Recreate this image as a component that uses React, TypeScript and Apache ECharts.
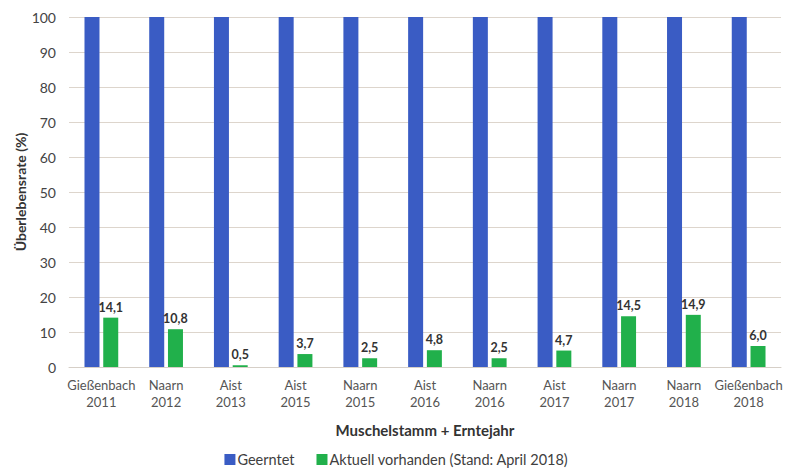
import React, { useEffect, useRef } from "react";
import * as echarts from "echarts";

const categories = [
  "Gießenbach\n2011",
  "Naarn\n2012",
  "Aist\n2013",
  "Aist\n2015",
  "Naarn\n2015",
  "Aist\n2016",
  "Naarn\n2016",
  "Aist\n2017",
  "Naarn\n2017",
  "Naarn\n2018",
  "Gießenbach\n2018",
];
const geernt = [100, 100, 100, 100, 100, 100, 100, 100, 100, 100, 100];
const aktuell = [14.1, 10.8, 0.5, 3.7, 2.5, 4.8, 2.5, 4.7, 14.5, 14.9, 6.0];
const seriesNames = ["Geerntet", "Aktuell vorhanden (Stand: April 2018)"];
const yTitle = "Überlebensrate (%)";

export default function App() {
  const ref = useRef<HTMLDivElement>(null);
  useEffect(() => {
    if (!ref.current) return;
    const chart = echarts.init(ref.current, undefined, { renderer: "svg" });
    const font = "Lato, 'Open Sans', sans-serif";
    chart.setOption({
      animation: false,
      textStyle: { fontFamily: font },
      grid: { left: 69, right: 12, top: 17, bottom: 103, containLabel: false },
      graphic: [
        {
          type: "text",
          x: 20,
          y: 192,
          rotation: Math.PI / 2,
          style: {
            text: yTitle,
            fontSize: 14,
            fontWeight: "bold",
            fill: "#333",
            fontFamily: font,
            align: "center",
            verticalAlign: "middle",
          },
        },
      ],
      legend: {
        top: 452,
        left: "center",
        padding: 0,
        itemWidth: 11,
        itemHeight: 11,
        itemGap: 22,
        icon: "rect",
        textStyle: { fontSize: 14.5, color: "#404040", fontFamily: font, padding: [0, 0, 0, -3] },
        data: seriesNames,
      },
      xAxis: {
        type: "category",
        data: categories,
        name: "Muschelstamm + Erntejahr",
        nameLocation: "middle",
        nameGap: 55,
        nameTextStyle: { fontSize: 15, fontWeight: "bold", color: "#333", fontFamily: font },
        axisLine: { lineStyle: { color: "#d6cfc7", width: 1 } },
        axisTick: { show: false },
        axisLabel: { fontSize: 13, color: "#555", lineHeight: 17, margin: 9, interval: 0, fontFamily: font },
      },
      yAxis: {
        type: "value",
        min: 0,
        max: 100,
        interval: 10,
        axisLine: { show: false },
        axisTick: { show: false },
        axisLabel: { fontSize: 14, color: "#444", margin: 13, fontFamily: font },
        splitLine: { lineStyle: { color: "#ddd5cc", width: 1 } },
      },
      series: [
        {
          name: seriesNames[0],
          type: "bar",
          data: geernt,
          barWidth: 15,
          barGap: "25%",
          itemStyle: { color: "#3A5CC4" },
        },
        {
          name: seriesNames[1],
          type: "bar",
          data: aktuell,
          barWidth: 15,
          itemStyle: { color: "#21B04B" },
          label: {
            show: true,
            position: "top",
            distance: 4,
            fontSize: 12.5,
            fontWeight: "bold",
            color: "#333",
            fontFamily: font,
            formatter: (p: any) => p.value.toFixed(1).replace(".", ","),
          },
        },
      ],
    });
    return () => chart.dispose();
  }, []);
  return <div ref={ref} style={{ width: 793, height: 470, position: "absolute", left: 0, top: 0, background: "#fff" }} />;
}
